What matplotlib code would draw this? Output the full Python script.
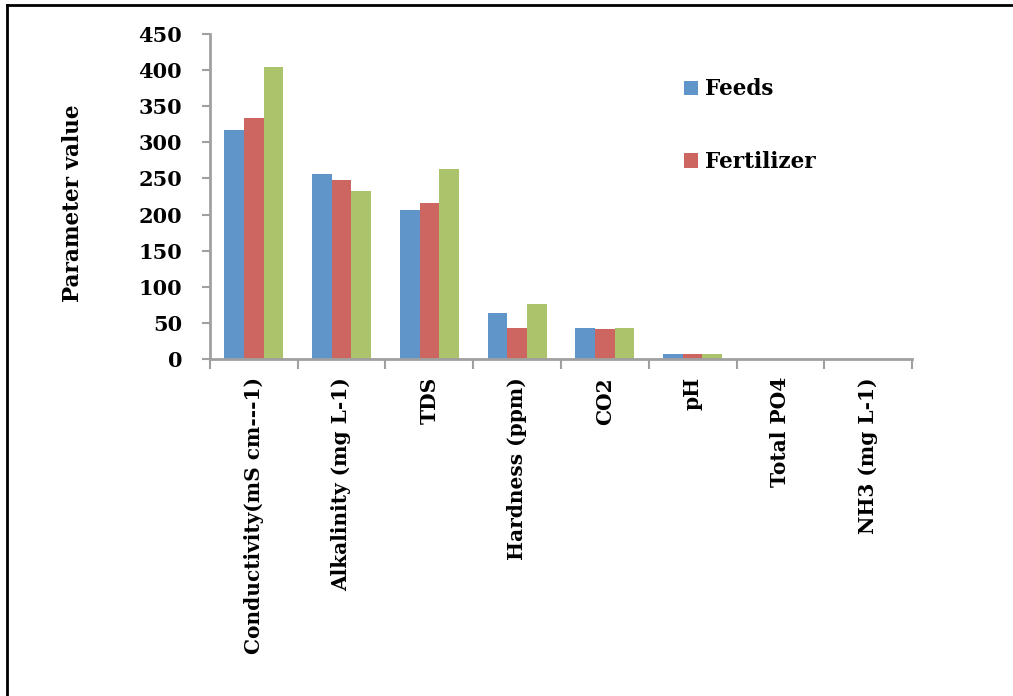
import numpy as np
import matplotlib.pyplot as plt

# water quality parameters per treatment
categories = ['Conductivity(mS cm---1)', 'Alkalinity (mg L-1)', 'TDS',
              'Hardness (ppm)', 'CO2', 'pH', 'Total PO4', 'NH3 (mg L-1)']
feeds = [317, 256, 206, 64, 43, 7, 0.3, 0.2]
fertilizer = [334, 248, 216, 43, 42, 7, 0.3, 0.2]
control = [405, 233, 263, 76, 43, 7, 0.3, 0.2]
yticks = [0, 50, 100, 150, 200, 250, 300, 350, 400, 450]

colors = ['#5f95c8', '#cd6560', '#abc46b']
axis_gray = '#a0a0a0'

plt.rcParams['font.family'] = ['DejaVu Serif']
plt.rcParams['font.weight'] = 'bold'

fig = plt.figure(figsize=(10.13, 6.96), dpi=100)
ax = fig.add_axes([0.2073, 0.4842, 0.6930, 0.4669])

x = np.arange(len(categories))
w = 0.225
b1 = ax.bar(x - w, feeds, w, color=colors[0], label='Feeds')
b2 = ax.bar(x, fertilizer, w, color=colors[1], label='Fertilizer')
b3 = ax.bar(x + w, control, w, color=colors[2])

ax.set_xlim(-0.5, len(categories) - 0.5)
ax.set_ylim(0, 450)
ax.set_yticks(yticks)
ax.set_yticklabels([str(t) for t in yticks], fontsize=15, fontweight='bold')

# category ticks sit on the boundaries between groups
ax.set_xticks(np.arange(-0.5, len(categories) + 0.5, 1))
ax.set_xticklabels([])
ax.set_xticks(x, minor=True)
ax.set_xticklabels(categories, minor=True, rotation=90, fontsize=14.5,
                   fontweight='bold', va='top')
ax.tick_params(axis='x', which='minor', length=0, pad=13)
ax.tick_params(axis='x', which='major', length=7, width=1.5, color=axis_gray)
ax.tick_params(axis='y', length=6, width=1.5, color=axis_gray, pad=14)

for side in ['top', 'right']:
    ax.spines[side].set_visible(False)
for side in ['left', 'bottom']:
    ax.spines[side].set_color(axis_gray)
    ax.spines[side].set_linewidth(2)

ax.set_ylabel('Parameter value', fontsize=15.5, fontweight='bold')
ax.yaxis.set_label_coords(-0.18, 0.48)

ax.legend(handles=[b1, b2], loc='upper left', bbox_to_anchor=(0.647, 0.923),
          frameon=False, labelspacing=2.35, handlelength=0.65,
          handleheight=0.65, handletextpad=0.35, prop={'weight': 'bold', 'size': 15.5})

# outer frame
fig.add_artist(plt.Line2D([0.007, 1.0], [0.993, 0.993], transform=fig.transFigure,
                          color='black', linewidth=2))
fig.add_artist(plt.Line2D([0.007, 0.007], [0.0, 0.993], transform=fig.transFigure,
                          color='black', linewidth=2))

fig.savefig('out.png', dpi=100)
